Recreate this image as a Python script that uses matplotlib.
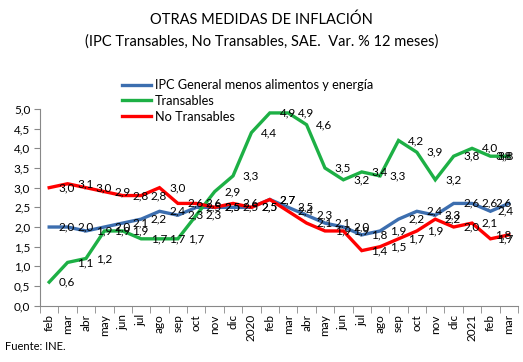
import matplotlib
matplotlib.use("Agg")
import matplotlib.pyplot as plt
from matplotlib.ticker import FixedLocator

months = ["feb", "mar", "abr", "may", "jun", "jul", "ago", "sep", "oct", "nov", "dic", "2020",
          "feb", "mar", "abr", "may", "jun", "jul", "ago", "sep", "oct", "nov", "dic", "2021",
          "feb", "mar"]
ipc_sae = [2.0, 2.0, 1.9, 2.0, 2.1, 2.2, 2.4, 2.3, 2.5, 2.5, 2.5, 2.5, 2.7, 2.5, 2.3, 2.1,
           2.0, 1.8, 1.9, 2.2, 2.4, 2.3, 2.6, 2.6, 2.4, 2.6]
transables = [0.6, 1.1, 1.2, 1.9, 1.9, 1.7, 1.7, 1.7, 2.3, 2.9, 3.3, 4.4, 4.9, 4.9, 4.6, 3.5,
              3.2, 3.4, 3.3, 4.2, 3.9, 3.2, 3.8, 4.0, 3.8, 3.8]
no_transables = [3.0, 3.1, 3.0, 2.9, 2.8, 2.8, 3.0, 2.6, 2.6, 2.5, 2.6, 2.5, 2.7, 2.4, 2.1, 1.9,
                 1.9, 1.4, 1.5, 1.7, 1.9, 2.2, 2.0, 2.1, 1.7, 1.8]
series_names = ["IPC General menos alimentos y energía", "Transables", "No Transables"]
colors = ["#3C6EAF", "#1DB045", "#FF0000"]

plt.rcParams['font.family'] = ['Lato', 'DejaVu Sans']

fig = plt.figure(figsize=(5.23, 3.62), dpi=100)
ax = fig.add_axes([40/523, (362-305.7)/362, 478/523, (305.7-109)/362])

x = list(range(len(months)))
handles = []
for vals, name, c in zip([ipc_sae, transables, no_transables], series_names, colors):
    h, = ax.plot(x, vals, color=c, lw=2.4, solid_joinstyle='miter', label=name)
    handles.append(h)
    n = len(vals)
    for i, v in enumerate(vals):
        txt = f"{v:.1f}".replace(".", ",")
        if i == n - 1:
            ax.annotate(txt, (i, v), xytext=(2, 0), textcoords='offset points',
                        ha='right', va='center', fontsize=8.5, color='black')
        elif i == n - 2:
            ax.annotate(txt, (i, v), xytext=(5, 0), textcoords='offset points',
                        ha='left', va='center', fontsize=8.5, color='black')
        else:
            ax.annotate(txt, (i, v), xytext=(7, 0), textcoords='offset points',
                        ha='left', va='center', fontsize=8.5, color='black')

ax.set_xlim(-0.5, len(months) - 0.5)
ax.set_ylim(0, 5.0)
ax.set_yticks([0, 0.5, 1, 1.5, 2, 2.5, 3, 3.5, 4, 4.5, 5])
ax.set_yticklabels([f"{t:.1f}".replace(".", ",") for t in ax.get_yticks()], fontsize=8.5)
ax.set_xticks(x)
ax.set_xticklabels(months, rotation=90, fontsize=8.5)
ax.tick_params(axis='x', which='major', length=0, pad=6)
ax.xaxis.set_minor_locator(FixedLocator([i - 0.5 for i in range(len(months) + 1)]))
ax.tick_params(axis='x', which='minor', length=5, color='#888888')
ax.tick_params(axis='y', length=4, color='#888888', pad=3)
for s in ['top', 'right']:
    ax.spines[s].set_visible(False)
ax.spines['left'].set_color('#888888')
ax.spines['bottom'].set_color('#888888')

fig.text(0.5, 1 - 20/362, "OTRAS MEDIDAS DE INFLACIÓN", ha='center', va='center', fontsize=10.5)
fig.text(0.5, 1 - 42/362, "(IPC Transables, No Transables, SAE.  Var. % 12 meses)",
         ha='center', va='center', fontsize=10.5)
fig.text(5/523, 1 - 347/362, "Fuente: INE.", ha='left', va='center', fontsize=8)

leg = fig.legend(handles=handles, loc='upper left', bbox_to_anchor=(122/523, 1 - 79/362),
                 frameon=False, fontsize=9.2, handlelength=2.3, handletextpad=0.25,
                 labelspacing=0.3, borderaxespad=0, borderpad=0)

fig.savefig("out.png", dpi=100)
